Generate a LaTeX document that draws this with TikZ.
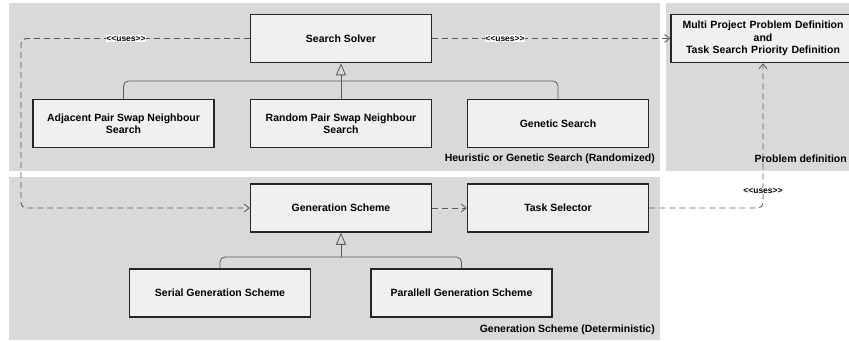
\documentclass[tikz,border=0pt]{standalone}
\usepackage{fontspec}
\setmainfont{Liberation Sans}
\usetikzlibrary{arrows.meta}
\definecolor{panelgray}{HTML}{D9D9D9}
\definecolor{boxfill}{HTML}{F0F0F0}
\definecolor{boxline}{HTML}{262626}
\definecolor{linkgray}{HTML}{5A5A5A}
\newcommand{\usestext}{<{}<uses>{}>}
\tikzset{
  umlbox/.style={draw=boxline, line width=1.5pt, fill=boxfill, minimum width=181pt, minimum height=48pt,
     inner sep=2pt, align=center, font=\fontsize{10.5}{12.3}\selectfont\bfseries},
  panel/.style={fill=panelgray, draw=none},
  panellabel/.style={font=\fontsize{10.5}{12}\selectfont\bfseries, inner sep=0pt},
  inherit/.style={draw=linkgray, line width=0.8pt, rounded corners=5pt},
  gentip/.style={-{Triangle[open, length=12pt, width=10pt, line width=0.8pt]}},
  uses/.style={draw=linkgray, line width=0.9pt, dash pattern=on 6pt off 4pt, rounded corners=5pt,
     -{Straight Barb[length=5pt, width=8pt, line width=0.8pt]}},
  useslabel/.style={fill=white, inner sep=0.6pt, font=\fontsize{8.5}{9}\selectfont\bfseries}
}
\begin{document}
\begin{tikzpicture}[x=1pt, y=-1pt]
\useasboundingbox (0,0) rectangle (849,341);
\clip (0,0) rectangle (849,341);
% panels
\path[panel] (9,3) rectangle (660,171);
\path[panel] (666,3) rectangle (860,171);
\path[panel] (9,177) rectangle (660,340);
\node[panellabel, anchor=east] (lblheur) at (655,159) {Heuristic or Genetic Search (Randomized)};
\node[panellabel, anchor=east] (lblprob) at (847,159) {Problem definition};
\node[panellabel, anchor=east] (lblgen) at (655,330) {Generation Scheme (Deterministic)};
% boxes
\node[umlbox] (solver) at (341,38.5) {Search Solver};
\node[umlbox] (adj) at (123.5,123.5) {Adjacent Pair Swap Neighbour\\Search};
\node[umlbox] (rand) at (341,123.5) {Random Pair Swap Neighbour\\Search};
\node[umlbox] (genetic) at (558,123.5) {Genetic Search};
\node[umlbox, minimum width=184pt, text width=176pt] (multi) at (763,38.5) {Multi Project Problem Definition\\and\\Task Search Priority Definition};
\node[umlbox] (genscheme) at (341,208) {Generation Scheme};
\node[umlbox] (tasksel) at (558,208) {Task Selector};
\node[umlbox] (serial) at (220,293) {Serial Generation Scheme};
\node[umlbox] (para) at (461.5,293) {Parallell Generation Scheme};
% inheritance
\coordinate (junc1) at (341,81);
\draw[inherit] (adj.north) |- (junc1);
\draw[inherit] (genetic.north) |- (junc1);
\draw[inherit, gentip] (rand.north) -- (solver.south);
\coordinate (junc2) at (341,257);
\draw[inherit] (serial.north) |- (junc2);
\draw[inherit] (para.north) |- (junc2);
\draw[inherit, gentip] (junc2) -- (genscheme.south);
% uses
\coordinate (c1) at (21,38.5);
\coordinate (c2) at (21,208);
\draw[uses] (solver.west) -- (c1) -- (c2) -- (genscheme.west);
\node[useslabel] (u1) at (126,38.5) {\usestext};
\draw[uses] (solver.east) -- (multi.west);
\node[useslabel] (u2) at (505,38.5) {\usestext};
\draw[uses] (genscheme.east) -- (tasksel.west);
\coordinate (c3) at (763,208);
\draw[uses] (tasksel.east) -- (c3) -- (multi.south);
\node[useslabel] (u3) at (763,191) {\usestext};
\end{tikzpicture}
\end{document}
